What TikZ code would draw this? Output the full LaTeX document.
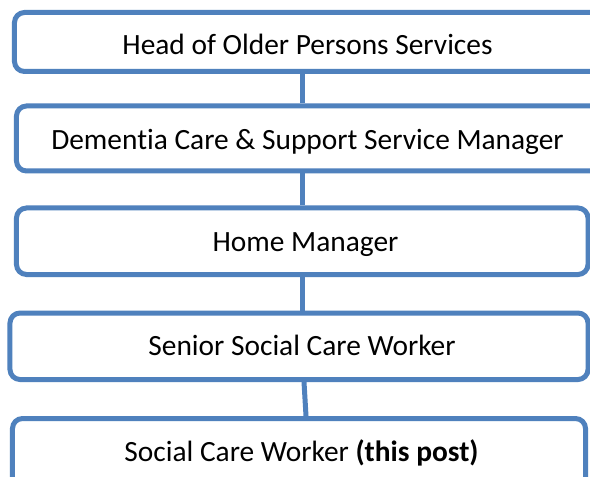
\documentclass[tikz,border=0pt]{standalone}
\usepackage{fontspec}
\setmainfont[Ligatures=NoCommon]{Carlito}
\definecolor{boxblue}{HTML}{4F81BD}
\begin{document}
\begin{tikzpicture}[x=1bp,y=-1bp,
  box/.style={draw=boxblue, line width=5bp, rounded corners=10bp, rectangle, inner sep=0pt},
  lbl/.style={anchor=base, inner sep=0pt, font=\fontsize{29.5}{34}\selectfont},
  link/.style={draw=boxblue, line width=5bp}]
\useasboundingbox (0,0) rectangle (590,477);
\fill[white] (0,0) rectangle (590,477);
\clip (0,0) rectangle (590,477);
\node[box, minimum width=595bp, minimum height=59bp] (b1) at (312,42) {};
\node[box, minimum width=593bp, minimum height=65bp] (b2) at (313,138.5) {};
\node[box, minimum width=571.5bp, minimum height=66.5bp] (b3) at (302.25,241.25) {};
\node[box, minimum width=578bp, minimum height=66.5bp] (b4) at (299,346.25) {};
\node[box, minimum width=573bp, minimum height=81.5bp] (b5) at (299,459.25) {};
\node[lbl] (t1) at (307.5,55) {Head of Older Persons Services};
\node[lbl] (t2) at (307.5,149.3) {Dementia Care \& Support Service Manager};
\node[lbl] (t3) at (305.5,251.7) {Home Manager};
\node[lbl] (t4) at (302,355) {Senior Social Care Worker};
\node[lbl] (t5) at (301.5,461) {Social Care Worker \textbf{(this post)}};
\coordinate (k1) at (302,0);
\coordinate (k2) at (302,0);
\coordinate (k3) at (302.5,0);
\coordinate (k4a) at (304,0);
\coordinate (k4b) at (306,0);
\draw[link] (b1.south -| k1) -- (b2.north -| k1);
\draw[link] (b2.south -| k2) -- (b3.north -| k2);
\draw[link] (b3.south -| k3) -- (b4.north -| k3);
\draw[link] (b4.south -| k4a) -- (b5.north -| k4b);
\end{tikzpicture}
\end{document}
